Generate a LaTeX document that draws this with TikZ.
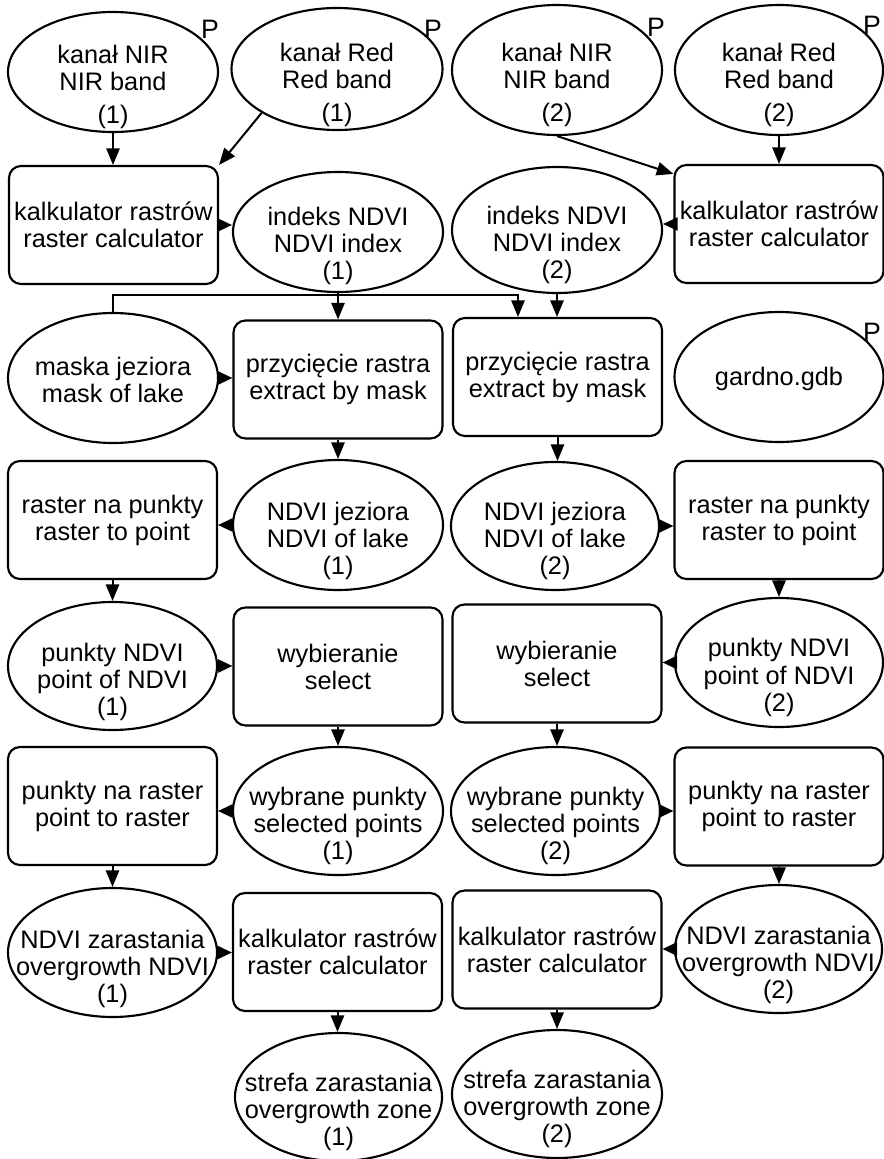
\documentclass[tikz,border=0pt]{standalone}
\usepackage{fontspec}
\setmainfont{Liberation Sans}
\usetikzlibrary{shapes.geometric,arrows.meta,calc}
\newcommand\myfont{\fontsize{19}{20.3}\selectfont}
\newcommand\pfont{\fontsize{20}{22}\selectfont}
\begin{document}
\begin{tikzpicture}[x=0.75pt,y=-0.75pt,
 ell/.style={draw,ellipse,line width=1.6pt,inner sep=0pt,minimum width=157.5pt,minimum height=96pt},
 box/.style={draw,rectangle,rounded corners=9pt,line width=1.6pt,align=center,inner sep=0pt,minimum width=156.75pt,minimum height=88.5pt,font=\myfont},
 txt/.style={align=center,font=\myfont,inner sep=0pt},
 plab/.style={font=\pfont,inner sep=0pt},
 arr/.style={line width=1.5pt,-{Triangle[length=12.5pt,width=10pt]}},
 harr/.style={line width=1.5pt,-{Triangle[length=11pt,width=10pt]}}]
\useasboundingbox (0,0) rectangle (884,1159);

% ellipses (data)
\node[ell,minimum height=90pt] (e1) at (113,72) {};
\node[ell,minimum width=158.25pt,minimum height=91.5pt] (e2) at (337,69) {};
\node[ell,minimum height=97.5pt] (e3) at (557,70) {};
\node[ell,minimum width=156pt,minimum height=97.5pt] (e4) at (779,70) {};
\node[ell,minimum height=90pt] (e5) at (338,232) {};
\node[ell,minimum height=94.5pt] (e6) at (557,230) {};
\node[ell,minimum height=97.5pt] (e7) at (113,378) {};
\node[ell,minimum width=156.75pt,minimum height=97.5pt] (e8) at (779,377) {};
\node[ell,minimum height=97.5pt] (e9) at (338,525) {};
\node[ell,minimum width=156pt] (e10) at (555,526) {};
\node[ell,minimum width=156.75pt] (e11) at (112.5,666) {};
\node[ell,minimum width=156pt,minimum height=96.75pt] (e12) at (779,662.5) {};
\node[ell] (e13) at (338,811) {};
\node[ell,minimum width=156.75pt] (e14) at (555.5,811) {};
\node[ell,minimum width=156.75pt,minimum height=96.75pt] (e15) at (112.5,952.5) {};
\node[ell,minimum width=155.25pt] (e16) at (778.5,949) {};
\node[ell,minimum width=155.25pt] (e17) at (338.5,1097) {};
\node[ell] (e18) at (557,1094) {};

% ellipse texts
\node[txt] (t1) at ($(e1)+(0,15)$) {kanał NIR\\NIR band\\[4pt](1)};
\node[txt] (t2) at ($(e2)+(0,16)$) {kanał Red\\Red band\\[4pt](1)};
\node[txt] (t3) at ($(e3)+(0,15)$) {kanał NIR\\NIR band\\[4pt](2)};
\node[txt] (t4) at ($(e4)+(0,15)$) {kanał Red\\Red band\\[4pt](2)};
\node[txt] (t5) at ($(e5)+(0,14)$) {indeks NDVI\\NDVI index\\(1)};
\node[txt] (t6) at ($(e6)+(0,15)$) {indeks NDVI\\NDVI index\\(2)};
\node[txt] (t7) at ($(e7)+(0,2)$) {maska jeziora\\mask of lake};
\node[txt] (t8) at ($(e8)+(0,2)$) {gardno.gdb};
\node[txt] (t9) at ($(e9)+(0,16)$) {NDVI jeziora\\NDVI of lake\\(1)};
\node[txt] (t10) at ($(e10)+(0,15)$) {NDVI jeziora\\NDVI of lake\\(2)};
\node[txt] (t11) at ($(e11)+(0,16)$) {punkty NDVI\\point of NDVI\\(1)};
\node[txt] (t12) at ($(e12)+(0,15)$) {punkty NDVI\\point of NDVI\\(2)};
\node[txt] (t13) at ($(e13)+(0,15)$) {wybrane punkty\\selected points\\(1)};
\node[txt] (t14) at ($(e14)+(0,15)$) {wybrane punkty\\selected points\\(2)};
\node[txt] (t15) at ($(e15)+(0,16)$) {NDVI zarastania\\overgrowth NDVI\\(1)};
\node[txt] (t16) at ($(e16)+(0,16)$) {NDVI zarastania\\overgrowth NDVI\\(2)};
\node[txt] (t17) at ($(e17)+(0,15)$) {strefa zarastania\\overgrowth zone\\(1)};
\node[txt] (t18) at ($(e18)+(0,15)$) {strefa zarastania\\overgrowth zone\\(2)};

% P labels
\node[plab] (p1) at (210,29) {P};
\node[plab] (p2) at (433,29) {P};
\node[plab] (p3) at (656,27) {P};
\node[plab] (p4) at (872,25) {P};
\node[plab] (p8) at (872,332) {P};

% boxes (tools)
\node[box] (r1) at (113.5,225) {kalkulator rastrów\\raster calculator};
\node[box] (r2) at (779,224) {kalkulator rastrów\\raster calculator};
\node[box] (r3) at (338,379.5) {przycięcie rastra\\extract by mask};
\node[box] (r4) at (557.5,377) {przycięcie rastra\\extract by mask};
\node[box] (r5) at (112.5,520) {raster na punkty\\raster to point};
\node[box] (r6) at (779,520) {raster na punkty\\raster to point};
\node[box] (r7) at (338,666.5) {wybieranie\\select};
\node[box] (r8) at (557,663.5) {wybieranie\\select};
\node[box] (r9) at (112.5,806) {punkty na raster\\point to raster};
\node[box] (r10) at (779,806.5) {punkty na raster\\point to raster};
\node[box] (r11) at (337.5,952) {kalkulator rastrów\\raster calculator};
\node[box] (r12) at (557,949.5) {kalkulator rastrów\\raster calculator};

% connectors
\coordinate (jn) at (518,295);
\draw[arr] (e1.south) -- (e1.south |- r1.north);
\draw[arr] (e2.south west) -- (r1.north east);
\draw[arr] (e3.south) -- ($(r2.north west)+(0,10)$);
\draw[arr] (e4.south) -- (e4.south |- r2.north);
\draw[harr] (r1.east) -- (r1.east -| e5.west);
\draw[harr] (r2.west) -- (r2.west -| e6.east);
\draw[arr] (e5.south) -- (e5.south |- r3.north);
\draw[arr] (e6.south) -- (e6.south |- r4.north);
\draw[arr] (e7.north) |- (jn) -- (jn |- r4.north);
\draw[harr] (e7.east) -- (e7.east -| r3.west);
\draw[arr] (r3.south) -- (r3.south |- e9.north);
\draw[arr] (r4.south) -- (r4.south |- e10.north);
\draw[harr] (e9.west) -- (e9.west -| r5.east);
\draw[harr] (e10.east) -- (e10.east -| r6.west);
\draw[arr] (r5.south) -- (r5.south |- e11.north);
\draw[arr] (r6.south) -- (r6.south |- e12.north);
\draw[harr] (e11.east) -- (e11.east -| r7.west);
\draw[harr] (e12.west) -- (e12.west -| r8.east);
\draw[arr] (r7.south) -- (r7.south |- e13.north);
\draw[arr] (r8.south) -- (r8.south |- e14.north);
\draw[harr] (e13.west) -- (e13.west -| r9.east);
\draw[harr] (e14.east) -- (e14.east -| r10.west);
\draw[arr] (r9.south) -- (r9.south |- e15.north);
\draw[arr] (r10.south) -- (r10.south |- e16.north);
\draw[harr] (e15.east) -- (e15.east -| r11.west);
\draw[harr] (e16.west) -- (e16.west -| r12.east);
\draw[arr] (r11.south) -- (r11.south |- e17.north);
\draw[arr] (r12.south) -- (r12.south |- e18.north);
\end{tikzpicture}
\end{document}
